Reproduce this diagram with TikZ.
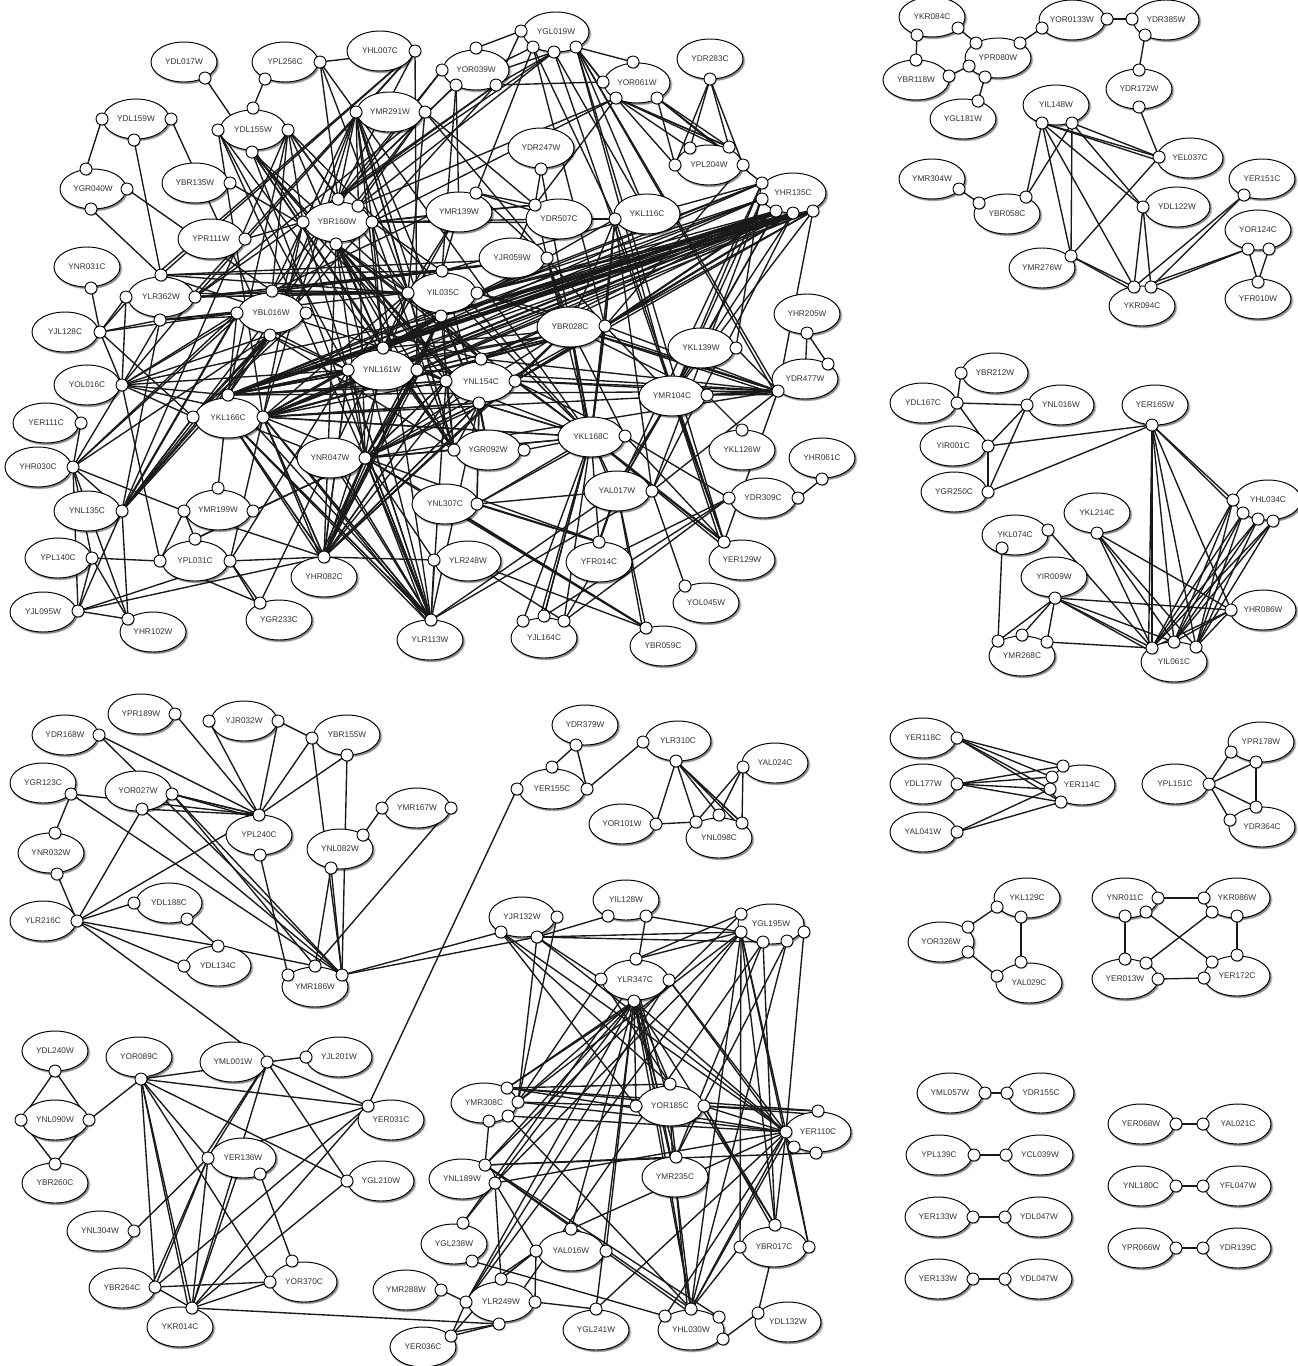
\documentclass[tikz,border=0pt]{standalone}
\usepackage{fontspec}
\setmainfont{Liberation Sans}
\usetikzlibrary{shapes.geometric,shadows,calc}
\pgfdeclarelayer{bg}\pgfdeclarelayer{mid}
\pgfsetlayers{bg,mid,main}
\tikzset{
 gene/.style={ellipse,draw=black,line width=.55pt,fill=white,inner sep=0pt,minimum width=1.32cm,minimum height=.8cm,
   font=\fontsize{4.7}{5}\selectfont,text=black!80,
   drop shadow={shadow xshift=.025cm,shadow yshift=-.03cm,fill=black,opacity=.18,shadow scale=1.04},
   drop shadow={shadow xshift=.03cm,shadow yshift=-.035cm,fill=black,opacity=.35}},
 portc/.style={circle,draw=black,line width=.5pt,fill=white,inner sep=0pt,minimum size=.24cm,
   drop shadow={shadow xshift=.015cm,shadow yshift=-.02cm,fill=black,opacity=.3}},
 link/.style={draw=black!90,line width=.78pt},
 heavy/.style={draw=black!90,line width=1.2pt}
}
\newcommand\G[5]{%
 \begin{pgfonlayer}{mid}\node[gene] (#1) at (#2,#3) {#4};\end{pgfonlayer}
 \foreach \p/\x/\y in {#5}{\node[portc] (#1\p) at (\x,\y) {};}}
\newcommand\F[2]{\foreach \t in {#2}{\draw[link] (#1.center) -- (\t.center);}}
\newcommand\D[2]{\foreach \t in {#2}{\draw[link] (#1.center) -- (\t.center);
  \draw[link] (#1.center) -- ($(\t.center)!0.07cm!90:(#1.center)$);}}
\newcommand\HH[2]{\foreach \t in {#2}{\draw[heavy] (#1.center) -- (\t.center);}}
\begin{document}
\begin{tikzpicture}[x=0.02cm,y=-0.02cm]
\useasboundingbox (0,0) rectangle (1298,1366);
% ---------- main graph
\G{dl017}{184}{62}{YDL017W}{a/205/78}
\G{pl256}{285}{62}{YPL256C}{b/265/79,r/320/62}
\G{hl007}{380}{51}{YHL007C}{r/415/51}
\G{mr291}{390}{112}{YMR291W}{l/356/112,r/425/112}
\G{dl159}{136}{119}{YDL159W}{l/102/119,r/171/119,b/134/140}
\G{dl155}{253}{130}{YDL155W}{t/253/108,l/218/130,r/288/130,b/252/152}
\G{gr040}{93}{189}{YGR040W}{t/86/169,r/127/189,b/91/209}
\G{br135}{195}{183}{YBR135W}{r/230/183}
\G{br160}{337}{222}{YBR160W}{t/338/199,u/358/206,l/303/222,r/372/222,b/336/244}
\G{pr111}{211}{239}{YPR111W}{r/245/239}
\G{nr031}{87}{267}{YNR031C}{b/91/288}
\G{lr362}{161}{297}{YLR362W}{t/161/275,l/126/297,r/195/297,b/160/320}
\G{bl016}{271}{313}{YBL016W}{t/272/291,l/237/313,r/306/313,b/270/335}
\G{jl128}{65}{332}{YJL128C}{r/100/332}
\G{il035}{443}{293}{YIL035C}{t/442/271,l/408/293,r/477/293,b/441/316}
\G{gl019}{556}{32}{YGL019W}{l/521/31,a/533/47,b/554/52,c/576/47}
\G{or039}{476}{70}{YOR039W}{t/476/48,l/442/70,a/456/85,b/496/85}
\G{or061}{637}{83}{YOR061W}{t/633/62,l/603/82,a/616/98,b/657/98}
\G{dr283}{710}{59}{YDR283C}{b/710/79}
\G{dr247}{541}{148}{YDR247W}{b/541/169}
\G{pl204}{709}{165}{YPL204W}{l/675/165,a/690/148,b/729/147,r/743/165}
\G{hr135}{793}{193}{YHR135C}{a/762/183,b/762/199,c/776/211,d/793/213,e/813/211}
\G{mr139}{459}{212}{YMR139W}{t/476/193}
\G{dr507}{559}{219}{YDR507C}{t/535/205}
\G{kl116}{647}{214}{YKL116C}{l/615/219}
\G{jr059}{512}{258}{YJR059W}{r/547/258}
\G{br028}{570}{327}{YBR028C}{r/605/326}
\G{hr205}{807}{314}{YHR205W}{b/807/333}
\G{kl139}{701}{348}{YKL139W}{r/736/348}
\G{dr477}{805}{379}{YDR477W}{t/828/364,b/778/391}
\G{nl154}{481}{382}{YNL154C}{t/481/359,l/446/381,r/515/381,b/479/403}
\G{mr104}{672}{396}{YMR104C}{r/707/395}
\G{gr092}{488}{450}{YGR092W}{l/454/450,r/524/450}
\G{kl168}{591}{437}{YKL168C}{r/625/436}
\G{kl126}{742}{450}{YKL126W}{t/742/430}
\G{hr061}{822}{458}{YHR061C}{b/822/479}
\G{dr309}{763}{498}{YDR309C}{l/729/498,r/798/498}
\G{al017}{617}{491}{YAL017W}{r/652/491}
\G{nl307}{445}{504}{YNL307C}{r/477/504}
\G{fr014}{599}{562}{YFR014C}{t/599/542}
\G{er129}{742}{560}{YER129W}{t/724/542}
\G{lr248}{468}{561}{YLR248W}{l/434/560}
\G{ol045}{706}{603}{YOL045W}{t/685/586}
\G{jl164}{544}{638}{YJL164C}{a/523/621,b/544/616,c/564/621}
\G{br059}{663}{646}{YBR059C}{t/646/628}
\G{lr113}{430}{640}{YLR113W}{t/431/620}
\G{ol016}{87}{385}{YOL016C}{r/122/385}
\G{er111}{46}{423}{YER111C}{r/81/423}
\G{hr030}{38}{467}{YHR030C}{r/73/467}
\G{kl166}{228}{418}{YKL166C}{t/228/395,l/193/417,r/263/417}
\G{nl161}{382}{370}{YNL161W}{t/383/348,l/348/370,r/417/370}
\G{nr047}{330}{458}{YNR047W}{r/365/458}
\G{nl135}{87}{511}{YNL135C}{r/122/511}
\G{mr199}{218}{510}{YMR199W}{t/218/488,l/184/511,r/253/511}
\G{pl031}{195}{561}{YPL031C}{t/195/539,l/160/561,r/230/561}
\G{pl140}{58}{558}{YPL140C}{r/92/558}
\G{hr082}{324}{577}{YHR082C}{t/324/557}
\G{jl095}{43}{612}{YJL095W}{r/78/611}
\G{hr102}{153}{632}{YHR102W}{t/128/619}
\G{gr233}{279}{620}{YGR233C}{t/260/603}
% ---------- lower left
\G{pr189}{141}{714}{YPR189W}{r/175/714}
\G{dr168}{65}{735}{YDR168W}{r/99/735}
\G{jr032}{244}{721}{YJR032W}{l/209/721,r/278/721}
\G{br155}{347}{735}{YBR155W}{l/312/738,b/347/755}
\G{gr123}{43}{783}{YGR123C}{r/71/794}
\G{or027}{138}{791}{YOR027W}{r/172/794,b/142/809}
\G{pl240}{259}{835}{YPL240C}{t/259/815,b/260/855}
\G{mr167}{417}{808}{YMR167W}{l/382/808,r/451/808}
\G{nl082}{340}{849}{YNL082W}{t/363/835,b/331/868}
\G{nr032}{51}{853}{YNR032W}{t/55/833,b/57/874}
\G{lr216}{43}{921}{YLR216C}{r/77/921}
\G{dl188}{169}{903}{YDL188C}{l/134/903,b/187/919}
\G{dl134}{218}{966}{YDL134C}{t/218/946,l/184/966}
\G{mr186}{315}{987}{YMR186W}{a/288/975,b/315/966,c/342/975}
% ---------- er155 group
\G{dr379}{585}{725}{YDR379W}{b/576/745}
\G{er155}{552}{789}{YER155C}{t/552/767,l/517/789,r/587/789}
\G{lr310}{678}{741}{YLR310C}{l/643/742,b/676/761}
\G{al024}{775}{763}{YAL024C}{l/743/767}
\G{or101}{622}{824}{YOR101W}{r/656/824}
\G{nl098}{719}{838}{YNL098C}{a/696/822,b/719/815,c/742/823}
% ---------- lower centre
\G{jr132}{522}{917}{YJR132W}{r/557/917,a/501/932,b/537/937}
\G{il128}{626}{900}{YIL128W}{a/608/916,b/646/916}
\G{gl195}{771}{924}{YGL195W}{a/741/914,b/741/932,c/763/942,d/787/941,e/804/932}
\G{lr347}{635}{980}{YLR347C}{t/636/959,l/601/979,r/669/980,b/634/1001}
\G{mr308}{484}{1103}{YMR308C}{a/507/1088,b/518/1102,c/508/1116,d/489/1121}
\G{or185}{670}{1106}{YOR185C}{t/670/1084,l/636/1106,r/704/1106}
\G{er110}{818}{1132}{YER110C}{t/818/1111,l/786/1132,a/794/1147,b/816/1153}
\G{nl189}{462}{1179}{YNL189W}{a/485/1165,b/495/1183}
\G{mr235}{675}{1177}{YMR235C}{t/676/1157}
\G{gl238}{454}{1244}{YGL238W}{t/463/1223,b/472/1261}
\G{al016}{571}{1251}{YAL016W}{t/571/1229,l/536/1251,r/606/1251}
\G{br017}{774}{1247}{YBR017C}{t/775/1225,l/740/1247,r/809/1247}
\G{mr288}{406}{1290}{YMR288W}{r/441/1290}
\G{lr249}{501}{1302}{YLR249W}{t/501/1279,l/466/1302,r/535/1302,b/499/1324}
\G{er036}{423}{1347}{YER036C}{r/451/1336}
\G{gl241}{596}{1330}{YGL241W}{t/596/1309}
\G{hl030}{691}{1330}{YHL030W}{a/665/1316,b/691/1309,c/719/1317,d/723/1339}
\G{dl132}{788}{1322}{YDL132W}{l/758/1313}
% ---------- bottom left
\G{dl240}{55}{1051}{YDL240W}{b/55/1071}
\G{or089}{139}{1057}{YOR089C}{b/141/1079}
\G{ml001}{233}{1062}{YML001W}{r/267/1062}
\G{jl201}{339}{1057}{YJL201W}{l/306/1057}
\G{nl090}{55}{1120}{YNL090W}{l/21/1120,r/89/1120}
\G{er031}{391}{1120}{YER031C}{t/368/1106}
\G{er136}{243}{1158}{YER136W}{l/208/1158,b/260/1174}
\G{br260}{55}{1183}{YBR260C}{t/55/1164}
\G{gl210}{381}{1181}{YGL210W}{l/347/1181}
\G{nl304}{100}{1231}{YNL304W}{r/134/1231}
\G{br264}{122}{1288}{YBR264C}{r/155/1287}
\G{or370}{304}{1282}{YOR370C}{t/292/1261,l/270/1282}
\G{kr014}{180}{1327}{YKR014C}{t/192/1308}
% ---------- top right
\G{kr084}{932}{17}{YKR084C}{a/917/35,b/958/28}
\G{or133}{1072}{20}{YOR0133W}{l/1042/28,r/1107/19}
\G{dr385}{1166}{20}{YDR385W}{l/1132/19,b/1145/35}
\G{pr080}{998}{58}{YPR080W}{a/976/43,b/1020/43,c/969/66,d/985/77}
\G{br118}{916}{80}{YBR118W}{t/916/60,r/949/76}
\G{gl181}{963}{119}{YGL181W}{t/978/101}
\G{dr172}{1139}{89}{YDR172W}{t/1139/70,b/1139/107}
\G{il148}{1056}{105}{YIL148W}{a/1042/123,b/1072/123}
\G{el037}{1190}{158}{YEL037C}{l/1159/157}
\G{mr304}{932}{179}{YMR304W}{r/959/189}
\G{br058}{1007}{214}{YBR058C}{l/979/203,t/1026/197}
\G{dl122}{1177}{207}{YDL122W}{l/1143/207}
\G{er151}{1262}{179}{YER151C}{b/1244/195}
\G{or124}{1258}{230}{YOR124C}{a/1248/249,b/1269/249}
\G{fr010}{1258}{299}{YFR010W}{t/1258/282}
\G{mr276}{1042}{268}{YMR276W}{r/1071/256}
\G{kr094}{1142}{306}{YKR094C}{a/1134/287,b/1151/287}
% ---------- middle right
\G{br212}{995}{373}{YBR212W}{l/961/373}
\G{dl167}{923}{403}{YDL167C}{r/957/403}
\G{nl016}{1061}{405}{YNL016W}{l/1027/405}
\G{er165}{1155}{405}{YER165W}{b/1152/425}
\G{ir001}{953}{446}{YIR001C}{r/988/446}
\G{gr250}{954}{492}{YGR250C}{r/988/492}
\G{hl034}{1268}{500}{YHL034C}{a/1233/500,b/1243/513,c/1258/519,d/1273/521}
\G{kl214}{1097}{513}{YKL214C}{b/1097/533}
\G{kl074}{1015}{535}{YKL074C}{a/1002/548,b/1048/530}
\G{ir009}{1054}{577}{YIR009W}{b/1055/598}
\G{hr086}{1263}{610}{YHR086W}{l/1231/610}
\G{mr268}{1022}{656}{YMR268C}{a/998/641,b/1022/635,c/1047/642}
\G{il061}{1174}{662}{YIL061C}{a/1152/648,b/1174/642,c/1196/647}
% ---------- small right groups
\G{er118}{923}{738}{YER118C}{r/957/738}
\G{dl177}{923}{784}{YDL177W}{r/957/784}
\G{al041}{923}{832}{YAL041W}{r/957/832}
\G{er114}{1082}{785}{YER114C}{a/1063/766,b/1052/777,c/1050/789,d/1061/802}
\G{pr178}{1261}{742}{YPR178W}{a/1231/752,b/1256/762}
\G{pl151}{1175}{784}{YPL151C}{r/1209/784}
\G{dr364}{1262}{827}{YDR364C}{a/1256/807,b/1230/820}
\G{kl129}{1027}{898}{YKL129C}{a/997/907,b/1021/917}
\G{or326}{941}{942}{YOR326W}{a/968/927,b/968/952}
\G{al029}{1029}{983}{YAL029C}{a/997/976,b/1021/962}
\G{nr011}{1125}{898}{YNR011C}{a/1158/898,b/1146/912,c/1125/916}
\G{kr086}{1237}{898}{YKR086W}{a/1204/898,b/1212/912,c/1237/916}
\G{er013}{1125}{979}{YER013W}{a/1125/959,b/1146/963,c/1158/979}
\G{er172}{1237}{976}{YER172C}{a/1204/978,b/1212/962,c/1237/955}
\G{ml057}{950}{1093}{YML057W}{r/985/1093}
\G{dr155}{1041}{1093}{YDR155C}{l/1007/1093}
\G{pl139}{939}{1155}{YPL139C}{r/974/1155}
\G{cl039}{1040}{1155}{YCL039W}{l/1006/1155}
\G{ea133}{938}{1217}{YER133W}{r/973/1217}
\G{da047}{1039}{1217}{YDL047W}{l/1005/1217}
\G{eb133}{938}{1279}{YER133W}{r/973/1279}
\G{db047}{1039}{1279}{YDL047W}{l/1005/1279}
\G{er068}{1141}{1124}{YER068W}{r/1176/1124}
\G{al021}{1238}{1124}{YAL021C}{l/1203/1124}
\G{nl180}{1141}{1186}{YNL180C}{r/1176/1186}
\G{fl047}{1238}{1186}{YFL047W}{l/1203/1186}
\G{pr066}{1141}{1248}{YPR066W}{r/1176/1248}
\G{dr139}{1238}{1248}{YDR139C}{l/1203/1248}
\begin{pgfonlayer}{bg}
% ---- main graph periphery
\F{dl017a}{br160l}
\F{pl256b}{dl155t}
\F{pl256r}{hl007r,mr291l,br160t,il035l}
\D{hl007r}{lr362t,lr362r}
\F{hl007r}{nl161r,br160t}
\F{dl159l}{gr040t}\F{dl159b}{lr362t}\F{dl159r}{bl016b}
\F{gr040r}{bl016t}\F{gr040b}{lr362t}
\F{br135r}{br160b}
\F{pr111r}{br160l}
\F{nr031b}{jl128r}
\D{jl128r}{lr362l}
\F{jl128r}{lr362b,bl016l,kl166l,ol016r}
\D{lr362b}{bl016l}
\F{lr362l}{ol016r}\F{lr362b}{ol016r,il035l}\F{lr362r}{ol016r,il035l,il035t,bl016t}
\F{lr362t}{il035l,il035t,jr059r,nl161t}
\F{ol016r}{hr030r,kl166t,kl166l,kl166r,nl161l,pl031l,bl016b,il035b}
\D{ol016r}{bl016l}
\F{er111r}{hr030r}
\F{hr030r}{mr199l,jl095r,pl140r,hr102t,nl135r,bl016b}
\D{hr030r}{bl016l}
\F{nl135r}{jl095r,kl166t,hr102t,lr362b}
\D{nl135r}{kl166l,bl016b}
\HH{nl135r}{bl016l}
\F{pl140r}{jl095r,pl031l,hr102t}
\F{jl095r}{hr102t,pl031r,hr082t}
\F{mr199t}{bl016l}
\F{mr199l}{pl031l,pl031t,hr082t}
\F{mr199r}{nr047r,pl031t}
\F{pl031t}{nr047r}
\F{pl031r}{hr082t,kl166r,nl161l}
\D{pl031r}{gr233t}
\F{pl031l}{gr233t}
\F{gr233t}{nl161t}
% ---- hairball
\F{dl155l}{gr092l,nl161l,kl166r,nr047r}
\F{dl155b}{nl161t,il035l,gr092l,nl154b,lr113t}
\D{dl155b}{br160b}
\F{dl155r}{br160t,br160l,il035l,kl166t,bl016t,nl135r,nl161t,kl168}
\F{br160b}{il035l,nl161t,nl161r,nl154t,nl154l,gr092l,kl166t,hr082t,lr113t,kl168,nr047r}
\D{br160b}{nl154b}
\F{br160l}{nl161l,nl154b,kl166r,bl016b}
\F{br160r}{mr139,dr507t,gr092l,nl161t,il035t}
\D{br160r}{dr507}
\F{br160t}{or039l,or039a,or039b,gl019b,mr291l,kl166t}
\F{br160u}{gl019b,mr291r}
\F{mr291l}{kl166r,lr113t,bl016t,bl016b,il035l,nl161t,nl154l,nl154b,nr047r,gr092l,kl168}
\F{mr291r}{lr362r,il035l,nl135r,dr507t,jr059r}
\F{or039a}{il035t,br160t,mr139}
\F{or039b}{lr362r,kl166l,or061l}
\F{or039l}{bl016t}
\F{gl019l}{or039t,or039b}
\F{gl019a}{mr139t,kl116l,or039a,br028r}
\F{gl019b}{kl116,er129t,or039a,or039b}
\F{gl019c}{or061t,or061l,mr104,er129t,kl116,or061a}
\D{gl019c}{dr477b}
\F{or061a}{pl204l,pl204a,pl204b,dr507t,br160r,br160u}
\D{or061a}{pl204b}
\F{or061b}{pl204l,pl204b,pl204r,hr135a}
\F{dr283b}{pl204a,pl204l,pl204b,pl204r}
\F{pl204r}{br028r}
\F{dr247b}{dr507t,kl168}
\F{mr139t}{dr507t,dr507,jr059r,bl016t}
\F{mr139}{dr507t,il035l,il035t,nl161t}
\F{dr507t}{jr059r,jr059}
\F{kl116l}{dr507,jr059r,br028r,kl168,br028,er129t,al017r}
\F{jr059r}{il035r,il035t,br028,br028r,kl168,bl016t,lr362r}
\D{jr059r}{br028}
\F{il035r}{hr135a,hr135b,hr135c,hr135d,hr135e,br028r,dr477b,kl166t,kl166r}
\F{il035l}{nl161l,nl161t,kl166r,bl016t,gr092l,nl154t,hr082t}
\D{il035l}{lr362r}
\HH{il035l}{bl016t}
\F{il035t}{bl016t,nl154l,nl154b,kl168,hr135a,jr059r}
\D{il035b}{hr135c,hr135d}
\F{il035b}{nl161r,nl154b,nl161l,kl166r,hr082t,nr047r}
\HH{kl166r}{hr135d,hr135c,br028r}
\F{kl166r}{hr135b,hr135e,dr477b,il035b,jr059r,kl168,nl154b,nr047r,hr082t,lr113t,nl154l,nl161l}
\D{kl166r}{hr082t,lr113t}
\HH{kl166t}{hr135c,hr135d,nl161l}
\F{kl166t}{hr135a,hr135b,br028r,il035b,nl161t,nl154l,dr477b,hr135e,lr113t,bl016b}
\D{kl166t}{nl161l,nl154l}
\F{kl166l}{bl016b,bl016r}
\HH{kl166l}{bl016b}
\F{kl166}{hr082t,lr113t,nr047}
\D{kl166}{hr082t,lr113t}
\HH{nl161t}{hr135c,hr135d}
\F{nl161t}{br028r,il035r,jr059r,nl154l,hr135b,hr135a}
\F{nl161r}{hr135c,hr135d,br028r,dr477b,nl154l,kl168,hr135e,hr082t}
\F{nl161l}{hr135d,br028r,hr082t,lr113t,bl016b,bl016l}
\F{nl154t}{hr135d,hr135c,br028r,il035b,kl166r,bl016r,dr477b}
\D{nl154r}{br028r,dr477b}
\F{nl154r}{kl168,hr135d,hr135e,hr082t,br028}
\HH{nl154b}{gr092}
\F{nl154b}{gr092,gr092l,kl168,hr082t,nr047r,lr113t,kl166r,nl307r}
\F{nl154l}{nr047r,lr113t,hr082t,gr092l,gr092}
\F{gr092l}{bl016b,il035b,gr092r}
\HH{gr092l}{nl161t}
\D{nr047r}{nl154b,nl161r,hr082t,lr113t}
\F{nr047r}{nl154l,nl161t,il035b,br028r,kl168,fr014t,lr248l,nl307,br059t,gr092l,nl161l,br028,dr477b}
\HH{nr047r}{hr082t}
\F{hr082t}{nl161l,nl154b,nl154l,il035b,br028,lr248l,nl154t}
\D{hr082t}{nr047r,nl161r}
\F{lr113t}{lr248l,al017r,nl161l}
\D{lr113t}{nr047r,nr047}
\F{lr248}{br059t,jl164c}
\HH{nl307}{br059t}
% ---- lower right of main graph
\F{br028r}{hr135e,dr477b,kl168,kl116l,nl154r,nl161r,mr104}
\HH{br028r}{hr135c,hr135d,kl168}
\F{br028}{kl168,nl154t,nl154r,dr477b,mr104r}
\D{br028}{kl168,dr477b}
\F{hr135b}{mr104,al017r}
\F{hr135c}{mr104,al017}
\F{hr135a}{al017,mr104}
\F{hr135e}{mr104,dr477b}
\F{hr135d}{al017r,mr104}
\F{kl139r}{dr477b,hr135a}
\F{hr205b}{dr477t,dr477}
\D{mr104r}{dr477b}
\F{mr104r}{kl126t}
\F{dr477b}{er129t,al017r}
\D{mr104}{er129t,al017}
\F{kl168r}{er129t,dr309l,br028,nl154r}
\D{kl168}{er129t,al017}
\HH{kl168}{er129t}
\F{kl168}{jl164a,jl164b,jl164c,gr092r,nl154b,nr047r,kl166r,fr014t}
\D{kl168}{jl164b}
\D{nl307r}{kl168}
\HH{nl307r}{fr014t}
\F{nl307r}{al017,nl154b}
\F{al017r}{ol045t}
\HH{al017}{fr014t}
\F{al017}{fr014t,lr113t}
\D{al017}{br059t}
\F{fr014}{dr309l,jl164c}
\F{jl164c}{dr309l}
\F{jl164b}{dr309l}
\F{dr309r}{hr061b}
% ---- lower left group
\F{pr189r}{pl240t}
\F{dr168r}{pl240t,mr186c}
\F{gr123r}{pl240t,mr186c,nr032t}
\F{nr032b}{lr216r}
\F{or027r}{pl240t,mr186c,mr186b}
\F{or027b}{pl240t,mr186c,lr216r}
\D{or027r}{pl240t}
\F{lr216r}{pl240t,dl188l,dl134t,dl134l,ml001r}
\F{dl188b}{dl134t}
\F{dl134t}{mr186b}
\F{jr032l}{pl240t}
\F{jr032r}{pl240t,br155l}
\F{br155l}{pl240t,mr186c}
\F{br155b}{pl240t,mr186c}
\F{nl082t}{mr167l}
\F{nl082b}{mr186b,mr186c}
\F{mr167r}{mr186b}
\F{pl240b}{mr186a}
\F{mr186c}{jr132a,jr132b}
% ---- er155 group
\F{dr379b}{er155t,er155r}
\F{er155r}{lr310l}
\F{er155l}{er031t}
\F{lr310b}{or101r,nl098a,nl098b,nl098c}
\D{lr310b}{nl098c}
\F{al024l}{nl098a,nl098b,nl098c}
\F{or101r}{nl098a}
% ---- lower centre
\F{jr132b}{il128a,gl195c,gl195b,mr308b,lr347l,er110l}
\F{il128b}{gl195b,lr347}
\F{lr347t}{gl195b,gl195a}
\F{jr132r}{mr308b}
\F{jr132a}{or185l,or185t,er110l}
\F{gl195a}{nl189a}
\F{gl195b}{mr308b,nl189b,er110l,hl030b,br017l,br017r,lr249l,br017t}
\F{gl195c}{mr235t,br017t,lr249b}
\F{gl195d}{mr235t,hl030b}
\F{gl195e}{er110l}
\F{lr347b}{mr308a,mr308b,nl189a,nl189b,lr249l,al016t,al016r,or185t,or185l,mr235t,er110l,br017t,hl030b,gl241t,mr235}
\F{lr347}{mr235,or185,gl238t,hl030b}
\D{lr347r}{er110l}
\F{lr347r}{mr308a,lr249l}
\F{lr347l}{or185t,mr308b}
\F{mr308a}{or185t,or185r,er110l,er110t}
\F{mr308b}{or185l,er110l}
\F{mr308c}{er110l,hl030b}
\F{mr308d}{nl189a}
\F{nl189a}{mr235t,er110b,hl030c}
\D{nl189a}{hl030b}
\F{nl189b}{er110l,al016l,lr249t,gl238t}
\F{al016t}{er110l}
\F{al016l}{lr249t,lr249r}
\D{al016l}{lr249t}
\F{gl238b}{hl030a}
\F{lr249l}{mr288r,er036r}
\F{lr249r}{gl241t}
\D{lr249b}{er036r}
\F{lr249t}{er036r}
\F{kr014t}{lr249b}
\F{gl241t}{er110l}
\F{hl030d}{dl132l}
\F{dl132l}{br017}
\D{mr235}{hl030b}
\F{hl030b}{br017l}
\D{hl030b}{er110l}
\F{hl030a}{er110l}
\D{or185r}{br017t,er110t}
\F{or185r}{er110l}
\D{or185}{mr235t}
\F{er110l}{br017t,br017r}
% ---- bottom left
\F{dl240b}{nl090l,nl090r}
\F{br260t}{nl090l,nl090r}
\F{nl090r}{or089b}
\F{or089b}{ml001r,er031t,gl210l,er136l,or370l,br264r}
\D{or089b}{kr014t}
\F{ml001r}{jl201l,er031t,gl210l,kr014t}
\D{ml001r}{er136l}
\F{er031t}{er136l,br264r,kr014t}
\F{gl210l}{kr014t}
\F{er136l}{nl304r,kr014t}
\D{er136l}{br264r}
\F{er136b}{or370t}
\F{er136}{kr014t}
\F{or370l}{br264r,kr014t}
\F{br264r}{kr014t}
% ---- top right
\F{kr084a}{br118t}\F{kr084b}{pr080a}\F{pr080b}{or133l}\F{or133r}{dr385l}
\F{dr385b}{dr172t}\F{dr172b}{el037l}\F{br118r}{pr080c}\F{pr080d}{gl181t}
\F{il148a}{br058t,mr276r,kr094a,dl122l}
\D{il148a}{el037l}
\F{il148b}{br058t,mr276r,dl122l,el037l}
\F{mr304r}{br058l}\F{el037l}{mr276r}
\D{mr276r}{kr094a}
\F{dl122l}{kr094a,kr094b}
\F{er151b}{kr094a,kr094b}
\D{or124a}{kr094b}
\F{or124a}{fr010t}\F{or124b}{fr010t}
% ---- middle right
\F{br212l}{dl167r}
\F{dl167r}{nl016l,ir001r}
\F{nl016l}{ir001r,gr250r}
\F{ir001r}{gr250r,er165b}
\F{gr250r}{er165b}
\F{er165b}{il061a,il061b,il061c,hr086l}
\D{er165b}{hl034a}
\D{er165b}{il061a}
\F{kl214b}{hr086l,il061a,il061b,il061c}
\F{kl074a}{mr268a}\F{kl074b}{il061a}
\F{ir009b}{mr268a,mr268b,mr268c,hr086l,il061b}
\D{ir009b}{il061a}
\F{mr268c}{il061a}
\F{hl034a}{il061a,il061b,il061c}
\F{hl034b}{il061a,il061b,il061c}
\F{hl034c}{il061a,il061b,il061c}
\F{hl034d}{il061a,il061b,il061c}
\F{hr086l}{il061a,il061b,il061c}
% ---- small right groups
\F{er118r}{er114a,er114b,er114c,er114d}
\F{dl177r}{er114a,er114b,er114c,er114d}
\F{al041r}{er114c,er114d}
\F{pl151r}{pr178a,pr178b,dr364a,dr364b}
\F{pr178b}{dr364a}
\F{or326a}{kl129a}\F{or326b}{al029a}\F{kl129b}{al029b}
\F{nr011a}{kr086a}\F{nr011c}{er013a}\F{nr011b}{er172b}
\F{kr086b}{er013b}\F{kr086c}{er172c}\F{er013c}{er172a}
\F{ml057r}{dr155l}\F{pl139r}{cl039l}\F{ea133r}{da047l}\F{eb133r}{db047l}
\F{er068r}{al021l}\F{nl180r}{fl047l}\F{pr066r}{dr139l}
\end{pgfonlayer}
\end{tikzpicture}
\end{document}
